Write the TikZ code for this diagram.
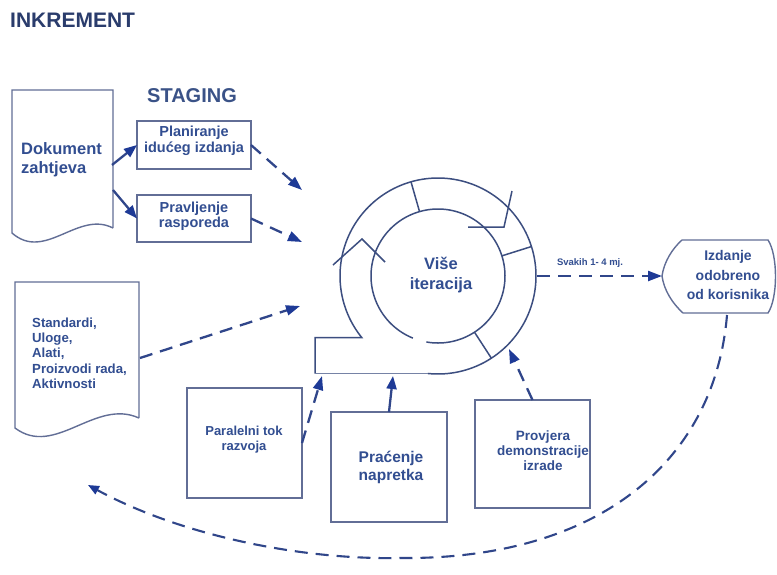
\documentclass[tikz,border=0pt]{standalone}
\usepackage{fontspec}
\setmainfont{Liberation Sans}
\usetikzlibrary{arrows.meta}
\definecolor{titlecol}{RGB}{42,60,108}
\definecolor{stagecol}{RGB}{58,82,135}
\definecolor{txtcol}{RGB}{50,78,145}
\definecolor{boxcol}{RGB}{98,110,150}
\definecolor{ringcol}{RGB}{60,78,128}
\definecolor{arrcol}{RGB}{48,70,138}
\definecolor{headcol}{RGB}{30,58,150}
\newcommand{\myfs}[2]{\fontsize{#1}{#2}\selectfont\bfseries}
\begin{document}
\begin{tikzpicture}[x=1pt,y=-1pt,
  boxline/.style={draw=boxcol, line width=1.4pt},
  ringline/.style={draw=ringcol, line width=1.5pt},
  stepbox/.style={draw=boxcol, line width=1.4pt, inner sep=0pt, outer sep=0pt, fill=white},
  lbl/.style={text=txtcol, align=center, inner sep=0pt},
  dasharr/.style={draw=arrcol, line width=2.3pt, dash pattern=on 13pt off 8pt, -{Triangle[length=14pt,width=10pt,color=headcol]}},
  solarr/.style={draw=arrcol, line width=2.3pt, -{Triangle[length=13pt,width=10pt,color=headcol]}}]
\useasboundingbox (0,0) rectangle (777,574);
\fill[white] (0,0) rectangle (777,574);

% titles
\node[text=titlecol, font=\myfs{21}{24}, anchor=base west, inner sep=0pt] (title) at (10,27) {INKREMENT};
\node[text=stagecol, font=\myfs{20}{24}, anchor=base west, inner sep=0pt] (staging) at (147,102) {STAGING};

% document shapes
\draw[boxline] (113,228) -- (113,90) -- (12,90) -- (12,233) .. controls (45,262) and (78,210) .. (113,228);
\node[lbl, align=left, anchor=west, font=\myfs{16.5}{19}] (doctxt) at (21,160) {Dokument\\zahtjeva};
\draw[boxline] (139,418) -- (139,282) -- (15,282) -- (15,428) .. controls (55,458) and (95,398) .. (139,418);
\node[lbl, align=left, anchor=west, font=\myfs{13.2}{15.3}] (stdtxt) at (32,353) {Standardi,\\Uloge,\\Alati,\\Proizvodi rada,\\Aktivnosti};
\coordinate (doc1) at (112,165);
\coordinate (doc2) at (113,190);
\coordinate (std1) at (140,358);

% staging boxes
\node[stepbox, minimum width=114pt, minimum height=48pt] (plan) at (194,145) {};
\node[lbl, font=\myfs{14.5}{15.5}] (plantxt) at (194,141) {Planiranje\\idućeg izdanja};
\node[stepbox, minimum width=114pt, minimum height=47pt] (prav) at (194,218.5) {};
\node[lbl, font=\myfs{14.5}{15.5}] (pravtxt) at (194,216) {Pravljenje\\rasporeda};

% bottom boxes
\node[stepbox, minimum width=115pt, minimum height=110pt] (par) at (244.5,443) {};
\node[lbl, font=\myfs{13}{15}] (partxt) at (244,440) {Paralelni tok\\razvoja};
\node[stepbox, minimum width=116pt, minimum height=110pt] (prac) at (389,467) {};
\node[lbl, font=\myfs{15.5}{18}] (practxt) at (391,467) {Praćenje\\napretka};
\node[stepbox, minimum width=115pt, minimum height=108pt] (prov) at (532.5,454) {};
\node[lbl, font=\myfs{13.5}{15}] (provtxt) at (543,451) {Provjera\\demonstracije\\izrade};

% ring
\draw[ringline] plot[domain=96:-219,samples=140] ({438+98*cos(\x)},{276+98*sin(\x)}) -- (315,337.7) -- (315,373.5);
\draw[draw=ringcol!70, line width=0.9pt] (315,373.5) -- (427.8,373.5);
\draw[ringline] plot[domain=100:-248,samples=140] ({438+67*cos(\x)},{276+67*sin(\x)});
\foreach \a in {-106,-17.5,57}
  \draw[ringline] ({438+67*cos(\a)},{276+67*sin(\a)}) -- ({438+98*cos(\a)},{276+98*sin(\a)});
\draw[ringline] (333,265) -- (362,239) -- (385,262);
\draw[ringline] (468,227) -- (504,227) -- (512,191);
\node[lbl, font=\myfs{16.5}{20}] (vise) at (441,275) {Više\\iteracija};

% ring targets
\coordinate (r1) at (302,190);
\coordinate (r2) at (302,242);
\coordinate (r3) at (300,306);
\coordinate (r4) at (322,376);
\coordinate (r5) at (393,376);
\coordinate (r6) at (509,349);
\coordinate (rr) at (537,276);

% Izdanje shape
\draw[boxline, fill=white] (682,240) -- (768,240) .. controls (778,255) and (778,298) .. (768,313) -- (683,313) .. controls (672,303) and (664,290) .. (662,276) .. controls (664,262) and (672,249) .. (682,240) -- cycle;
\node[lbl, font=\myfs{14}{19.5}] (izd) at (728,275) {Izdanje\\odobreno\\od korisnika};
\coordinate (izdL) at (662,276);
\coordinate (izdB) at (727,315);
\coordinate (ret) at (88,485);

% connectors
\draw[solarr] (doc1) -- (plan.west);
\draw[solarr] (doc2) -- (prav.west);
\draw[dasharr] (plan.east) -- (r1);
\draw[dasharr] (prav.east) -- (r2);
\draw[dasharr] (std1) -- (r3);
\draw[dasharr] (par.east) -- (r4);
\draw[solarr] (prac.north) -- (r5);
\draw[dasharr] (prov.north) -- (r6);
\draw[dasharr] (rr) -- (izdL);
\node[lbl, font=\myfs{9.5}{11}] (svakih) at (590,263) {Svakih 1- 4 mj.};
\draw[dasharr, line width=2.1pt, -{Triangle[length=11pt,width=9pt,color=headcol]}] (izdB) .. controls (715,460) and (600,560) .. (400,558) .. controls (300,560) and (180,535) .. (ret);
\end{tikzpicture}
\end{document}
